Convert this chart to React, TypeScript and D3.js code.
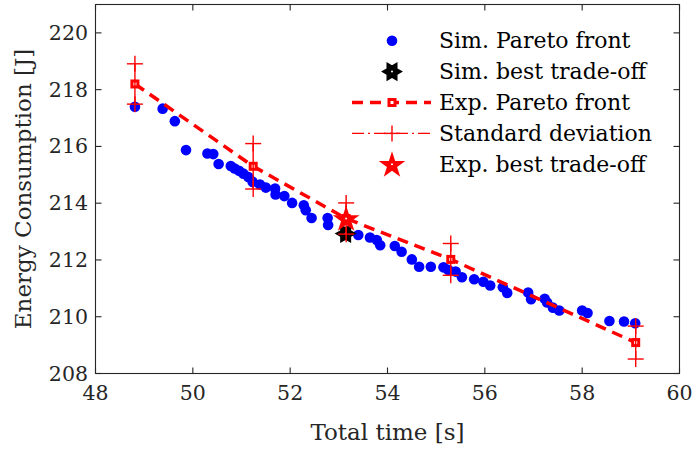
import React from "react";
import * as d3 from "d3";

// Simulated Pareto front (Total time [s], Energy [J])
const simTime = [48.81, 49.38, 49.63, 49.86, 50.30, 50.42, 50.53, 50.78, 50.86, 50.95, 51.04, 51.14, 51.23, 51.38, 51.50, 51.69, 51.70, 51.88, 52.04, 52.28, 52.32, 52.44, 52.77, 52.78, 53.14, 53.40, 53.64, 53.78, 53.85, 54.15, 54.29, 54.50, 54.65, 54.89, 55.15, 55.25, 55.40, 55.53, 55.78, 55.97, 56.11, 56.37, 56.46, 56.89, 56.95, 57.23, 57.28, 57.40, 57.53, 58.00, 58.11, 58.56, 58.86, 59.09];
const simEnergy = [217.40, 217.33, 216.89, 215.87, 215.75, 215.73, 215.38, 215.31, 215.22, 215.14, 215.04, 214.92, 214.75, 214.66, 214.55, 214.52, 214.31, 214.25, 214.01, 213.93, 213.75, 213.48, 213.48, 213.23, 212.93, 212.88, 212.79, 212.70, 212.52, 212.49, 212.29, 212.02, 211.76, 211.76, 211.74, 211.65, 211.59, 211.39, 211.32, 211.23, 211.10, 211.04, 210.84, 210.85, 210.62, 210.63, 210.50, 210.32, 210.22, 210.22, 210.13, 209.85, 209.83, 209.77];

const simBestTime = [53.14];
const simBestEnergy = [212.93];

// Experimental Pareto front
const expTime = [48.81, 51.24, 53.15, 55.30, 59.10];
const expEnergy = [218.20, 215.30, 213.46, 212.02, 209.09];
const expStd = [0.71, 0.80, 0.55, 0.56, 0.58];

const expBestTime = [53.15];
const expBestEnergy = [213.46];

const xTicks = [48, 50, 52, 54, 56, 58, 60];
const yTicks = [208, 210, 212, 214, 216, 218, 220];
const xDomain = [48, 60];
const yDomain = [208, 221];

const legendLabels = [
  "Sim. Pareto front",
  "Sim. best trade-off",
  "Exp. Pareto front",
  "Standard deviation",
  "Exp. best trade-off",
];

const W = 692;
const H = 450;
const L = 95.5, R = 679.5, T = 4.5, B = 373.5;
const FONT = "'DejaVu Serif', serif";
const RED = "#ff0000";
const BLUE = "#0000ff";
const AX = "#262626";

function starPath(cx: number, cy: number, n: number, Ro: number, Ri: number, rot: number) {
  const pts: [number, number][] = [];
  for (let i = 0; i < 2 * n; i++) {
    const r = i % 2 === 0 ? Ro : Ri;
    const a = rot + (i * Math.PI) / n;
    pts.push([cx + r * Math.cos(a), cy + r * Math.sin(a)]);
  }
  return d3.line()(pts) + "Z";
}
const pentagram = (cx: number, cy: number, Ro: number) =>
  starPath(cx, cy, 5, Ro, Ro * 0.382, -Math.PI / 2);
const hexagram = (cx: number, cy: number, Ro: number) =>
  starPath(cx, cy, 6, Ro, Ro / Math.sqrt(3), 0);

function Plus({ x, y, s = 8 }: { x: number; y: number; s?: number }) {
  return (
    <g stroke={RED} strokeWidth={1.4}>
      <line x1={x - s} x2={x + s} y1={y} y2={y} />
      <line x1={x} x2={x} y1={y - s} y2={y + s} />
    </g>
  );
}

function Square({ x, y }: { x: number; y: number }) {
  return <rect x={x - 3} y={y - 3} width={6} height={6} fill="#fff" stroke={RED} strokeWidth={3} />;
}

export default function App() {
  const x = d3.scaleLinear().domain(xDomain).range([L, R]);
  const y = d3.scaleLinear().domain(yDomain).range([B, T]);
  const line = d3.line<number>().x((_, i) => x(expTime[i])).y((d) => y(d));

  const legX = 392;
  const legY = (i: number) => 40.7 + i * 30.9;
  const textX = 439;

  return (
    <svg width={W} height={H} style={{ position: "absolute", left: 0, top: 0, background: "#fff" }}>
      <rect width={W} height={H} fill="#fff" />
      {/* axes box and ticks */}
      <g stroke={AX} strokeWidth={1.1} fill="none">
        <rect x={L} y={T} width={R - L} height={B - T} />
        {xTicks.map((t) => (
          <g key={"xt" + t}>
            <line x1={x(t)} x2={x(t)} y1={B} y2={B - 6} />
            <line x1={x(t)} x2={x(t)} y1={T} y2={T + 6} />
          </g>
        ))}
        {yTicks.map((t) => (
          <g key={"yt" + t}>
            <line x1={L} x2={L + 6} y1={y(t)} y2={y(t)} />
            <line x1={R} x2={R - 6} y1={y(t)} y2={y(t)} />
          </g>
        ))}
      </g>
      <g fontFamily={FONT} fontSize={20.5} fill={AX}>
        {xTicks.map((t) => (
          <text key={"xl" + t} x={x(t)} y={400} textAnchor="middle">{t}</text>
        ))}
        {yTicks.map((t) => (
          <text key={"yl" + t} x={88} y={y(t) + 7} textAnchor="end">{t}</text>
        ))}
      </g>
      <text x={(L + R) / 2} y={440} textAnchor="middle" fontFamily={FONT} fontSize={23} fill={AX}>
        Total time [s]
      </text>
      <text
        transform={`translate(31,${(T + B) / 2}) rotate(-90)`}
        textAnchor="middle"
        fontFamily={FONT}
        fontSize={23}
        fill={AX}
      >
        Energy Consumption [J]
      </text>

      {/* simulated Pareto front */}
      <g fill={BLUE}>
        {simTime.map((t, i) => (
          <circle key={"s" + i} cx={x(t)} cy={y(simEnergy[i])} r={5.3} />
        ))}
      </g>
      {/* sim best trade-off */}
      {simBestTime.map((t, i) => (
        <g key={"sb" + i}>
          <path d={hexagram(x(t), y(simBestEnergy[i]), 11)} fill="#000" />
          <circle cx={x(t)} cy={y(simBestEnergy[i])} r={1} fill="#fff" />
        </g>
      ))}
      {/* experimental Pareto front */}
      <path d={line(expEnergy) || ""} fill="none" stroke={RED} strokeWidth={3.5} strokeDasharray="11 7" />
      {expTime.map((t, i) => (
        <Square key={"e" + i} x={x(t)} y={y(expEnergy[i])} />
      ))}
      {/* standard deviation */}
      {expTime.map((t, i) => (
        <g key={"sd" + i}>
          <line x1={x(t)} x2={x(t)} y1={y(expEnergy[i] + expStd[i])} y2={y(expEnergy[i] - expStd[i])} stroke={RED} strokeWidth={1.4} />
          <Plus x={x(t)} y={y(expEnergy[i] + expStd[i])} />
          <Plus x={x(t)} y={y(expEnergy[i] - expStd[i])} />
        </g>
      ))}
      {/* exp best trade-off */}
      {expBestTime.map((t, i) => (
        <g key={"eb" + i}>
          <path d={pentagram(x(t), y(expBestEnergy[i]) + 1, 14)} fill={RED} />
          <circle cx={x(t)} cy={y(expBestEnergy[i])} r={1} fill="#fff" />
        </g>
      ))}

      {/* legend */}
      <g>
        <circle cx={legX} cy={legY(0)} r={5.3} fill={BLUE} />
        <path d={hexagram(legX, legY(1), 11)} fill="#000" />
        <circle cx={legX} cy={legY(1)} r={1} fill="#fff" />
        <line x1={352} x2={431} y1={legY(2)} y2={legY(2)} stroke={RED} strokeWidth={3.5} strokeDasharray="11 7" />
        <Square x={legX} y={legY(2)} />
        <line x1={352} x2={431} y1={legY(3)} y2={legY(3)} stroke={RED} strokeWidth={1.2} strokeDasharray="12 4 2 4" />
        <Plus x={legX} y={legY(3)} />
        <path d={pentagram(legX, legY(4) + 1, 14)} fill={RED} />
        <circle cx={legX} cy={legY(4)} r={1} fill="#fff" />
        {legendLabels.map((s, i) => (
          <text key={s} x={textX} y={legY(i) + 7.5} fontFamily={FONT} fontSize={22} fill="#000">
            {s}
          </text>
        ))}
      </g>
    </svg>
  );
}
